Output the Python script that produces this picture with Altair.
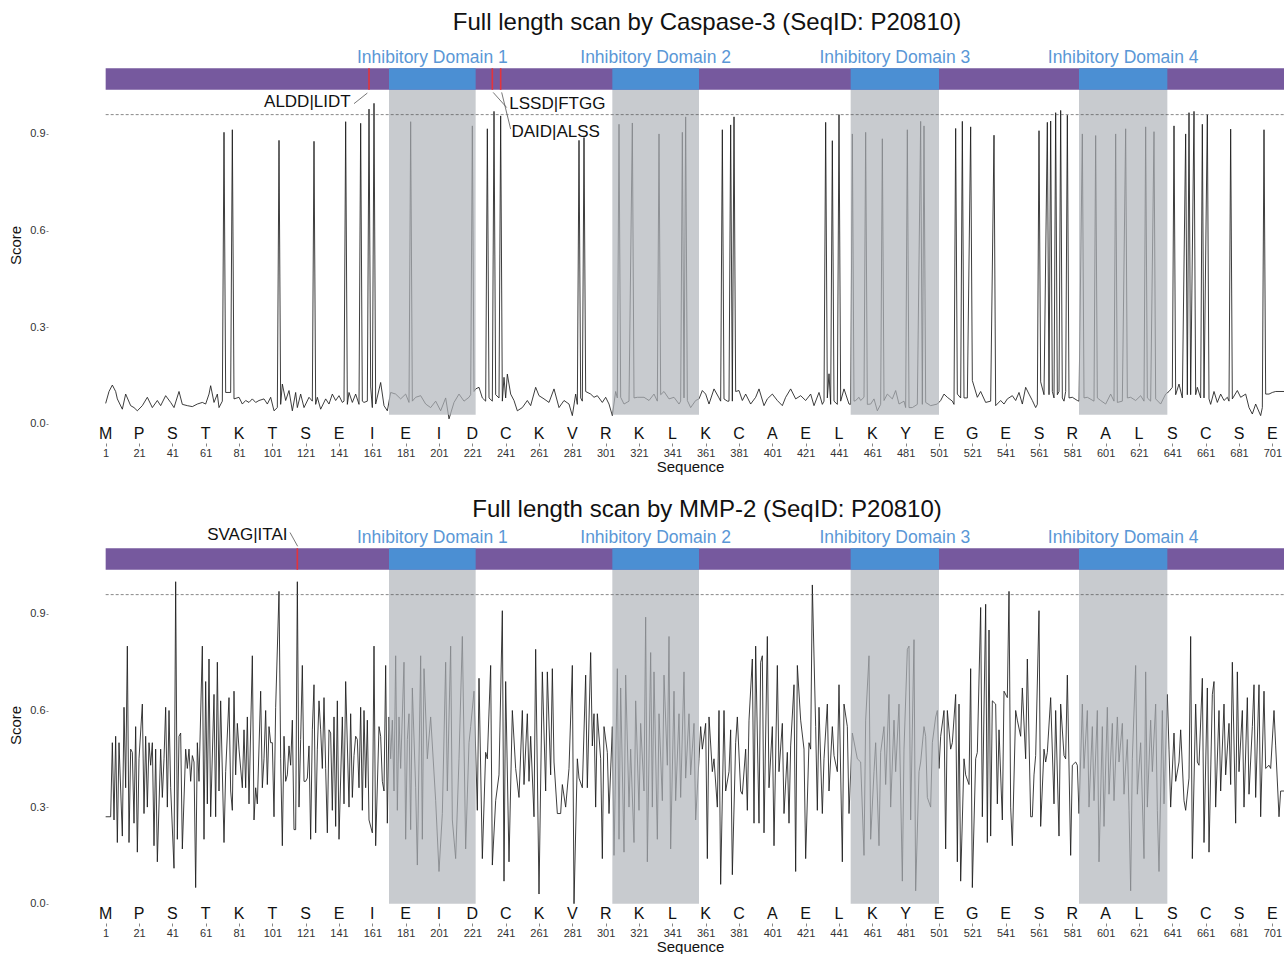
import altair as alt
import pandas as pd

FONT = "Liberation Sans"

# ---------------- data ----------------
sequence_letters = ["M", "P", "S", "T", "K", "T", "S", "E", "I", "E", "I", "D",
                    "C", "K", "V", "R", "K", "L", "K", "C", "A", "E", "L", "K",
                    "Y", "E", "G", "E", "S", "R", "A", "L", "S", "C", "S", "E"]
sequence_ticks = [1, 21, 41, 61, 81, 101, 121, 141, 161, 181, 201, 221,
                  241, 261, 281, 301, 321, 341, 361, 381, 401, 421, 441, 461,
                  481, 501, 521, 541, 561, 581, 601, 621, 641, 661, 681, 701]
score_ticks = [0, 0.3, 0.6, 0.9]

domain_names = ["Inhibitory Domain 1", "Inhibitory Domain 2",
                "Inhibitory Domain 3", "Inhibitory Domain 4"]
domain_start = [171, 305, 448, 585]
domain_end = [223, 357, 501, 638]

protein_start = 1
protein_end = 712
threshold = 0.96

# Caspase-3 scan: (sequence position, score)
caspase3_points = [
    (1, .063), (3, .10), (5, .12), (7, .10), (8, .077), (11, .045), (13, .092), (16, .056), (18, .05), (20, .04),
    (23, .056), (26, .082), (29, .05), (32, .072), (34, .056), (37, .087), (40, .066), (42, .05), (45, .10), (47, .06),
    (50, .056), (53, .053), (56, .061), (59, .066), (61, .061), (63, .092), (64, .118), (66, .066), (68, .092), (69, .05),
    (71, .07), (72, .905), (73, .097), (76, .097), (77, .913), (78, .077), (81, .082), (83, .061), (85, .072), (87, .066),
    (89, .077), (91, .066), (93, .072), (96, .077), (98, .061), (100, .082), (102, .04), (104, .05), (105, .88), (106, .06),
    (107, .123), (109, .072), (111, .103), (113, .04), (115, .097), (116, .05), (118, .092), (120, .05), (123, .082), (125, .07),
    (126, .877), (127, .06), (128, .082), (130, .045), (133, .077), (135, .061), (137, .092), (139, .072), (141, .087), (143, .066),
    (144, .07), (145, .938), (146, .06), (147, .097), (149, .066), (151, .092), (153, .06), (154, .933), (155, .07), (156, .066),
    (158, .07), (159, .977), (160, .114), (161, .05), (162, .995), (163, .061), (166, .128), (168, .056), (170, .04), (172, .097),
    (175, .092), (178, .077), (181, .092), (183, .066), (184, .938), (185, .07), (187, .082), (190, .087), (193, .061), (196, .05),
    (199, .07), (202, .04), (205, .08), (207, .015), (210, .066), (213, .092), (216, .07), (219, .082), (220, .09), (221, .925),
    (222, .10), (223, .108), (225, .113), (227, .08), (229, .07), (230, .916), (231, .08), (233, .07), (234, .97), (235, .09),
    (237, .08), (238, .956), (239, .07), (240, .144), (241, .08), (242, .154), (244, .092), (246, .072), (248, .04), (251, .05),
    (254, .072), (256, .056), (259, .113), (261, .087), (264, .077), (267, .066), (270, .108), (273, .05), (276, .072), (279, .061),
    (281, .025), (283, .092), (284, .06), (285, .88), (286, .08), (287, .07), (288, .889), (289, .10), (292, .092), (294, .082),
    (296, .087), (299, .066), (301, .082), (303, .061), (305, .025), (307, .10), (308, .08), (309, .93), (310, .082), (312, .061),
    (315, .07), (317, .934), (318, .08), (320, .082), (324, .082), (327, .072), (330, .092), (332, .07), (333, .90), (334, .09),
    (336, .10), (339, .077), (342, .082), (345, .061), (346, .07), (347, .905), (348, .08), (349, .953), (350, .072), (352, .05),
    (355, .072), (357, .077), (359, .103), (361, .092), (363, .061), (366, .108), (369, .08), (370, .07), (371, .913), (372, .077),
    (374, .07), (375, .07), (376, .928), (377, .07), (378, .953), (379, .10), (381, .103), (383, .072), (385, .092), (388, .061),
    (391, .082), (393, .108), (396, .056), (398, .077), (401, .092), (404, .072), (407, .056), (409, .082), (412, .108), (415, .077),
    (418, .087), (421, .072), (424, .092), (426, .056), (429, .097), (431, .06), (432, .07), (433, .936), (434, .08), (435, .155),
    (436, .06), (437, .879), (438, .07), (440, .06), (441, .96), (442, .07), (444, .108), (447, .061), (448, .06), (449, .90),
    (450, .07), (451, .072), (453, .082), (454, .072), (456, .082), (457, .905), (458, .06), (460, .061), (462, .077), (464, .04),
    (466, .06), (467, .885), (468, .072), (470, .092), (473, .077), (475, .103), (477, .061), (480, .07), (481, .05), (482, .913),
    (483, .05), (485, .05), (488, .06), (490, .939), (491, .06), (492, .925), (493, .066), (496, .056), (500, .061), (502, .072),
    (504, .092), (506, .082), (509, .07), (510, .06), (511, .917), (512, .092), (514, .08), (515, .939), (516, .08), (518, .08),
    (520, .922), (521, .134), (524, .082), (526, .10), (529, .066), (532, .07), (534, .896), (535, .056), (538, .072), (540, .061),
    (542, .077), (545, .087), (547, .072), (549, .097), (551, .061), (553, .113), (555, .092), (557, .072), (559, .05), (560, .06),
    (561, .91), (562, .13), (564, .09), (566, .936), (567, .09), (568, .94), (569, .10), (570, .08), (571, .966), (572, .09),
    (573, .10), (574, .973), (575, .08), (576, .07), (577, .10), (578, .958), (579, .08), (581, .082), (584, .072), (585, .07),
    (587, .90), (588, .08), (590, .082), (594, .07), (595, .895), (596, .08), (598, .072), (601, .061), (604, .092), (606, .07),
    (607, .90), (608, .066), (611, .07), (613, .916), (614, .08), (616, .082), (619, .072), (622, .087), (624, .07), (625, .922),
    (626, .08), (628, .07), (630, .907), (631, .077), (634, .061), (637, .092), (639, .10), (641, .113), (642, .925), (643, .09),
    (645, .123), (647, .08), (649, .90), (650, .09), (651, .966), (652, .09), (654, .97), (655, .09), (656, .113), (658, .08),
    (659, .93), (660, .08), (662, .96), (663, .077), (664, .06), (666, .10), (668, .066), (670, .092), (672, .072), (674, .082),
    (675, .07), (676, .915), (677, .077), (680, .103), (682, .082), (685, .092), (687, .05), (689, .03), (691, .061), (694, .025),
    (695, .05), (696, .913), (697, .092), (699, .092), (701, .097), (703, .10), (708, .10),
]

# MMP-2 scan: (sequence position, score)
mmp2_points = [
    (1, .27), (4, .27), (5, .50), (6, .26), (7, .52), (8, .19), (9, .50), (11, .21), (12, .61), (13, .36),
    (14, .80), (15, .19), (16, .48), (17, .47), (18, .25), (19, .55), (20, .16), (21, .45), (23, .62), (24, .28),
    (25, .52), (26, .30), (27, .50), (28, .43), (29, .50), (30, .18), (31, .48), (32, .13), (34, .48), (35, .33),
    (36, .45), (37, .61), (38, .30), (39, .60), (40, .36), (42, .11), (43, 1.0), (44, .20), (45, .52), (46, .53),
    (47, .17), (49, .48), (50, .42), (51, .48), (52, .38), (53, .46), (54, .44), (55, .05), (56, .50), (57, .38),
    (59, .80), (60, .20), (61, .69), (62, .31), (63, .76), (64, .27), (66, .65), (67, .27), (68, .75), (69, .35),
    (70, .63), (72, .19), (73, .41), (75, .64), (76, .35), (77, .29), (78, .66), (79, .40), (80, .56), (81, .48),
    (83, .36), (84, .54), (85, .36), (86, .58), (87, .31), (89, .77), (90, .26), (91, .36), (92, .31), (94, .66),
    (95, .36), (96, .45), (97, .60), (98, .37), (99, .55), (100, .50), (101, .50), (102, .27), (103, .61), (105, .97),
    (106, .45), (107, .18), (108, .52), (109, .38), (110, .40), (111, .49), (112, .43), (113, .57), (114, .23), (115, .23),
    (116, 1.0), (117, .30), (118, .51), (119, .74), (120, .38), (121, .38), (122, .39), (123, .49), (124, .20), (125, .54),
    (126, .68), (127, .22), (128, .48), (129, .63), (130, .54), (131, .42), (132, .64), (133, .42), (134, .22), (135, .54),
    (136, .53), (137, .29), (138, .58), (139, .24), (140, .63), (141, .20), (143, .58), (144, .31), (145, .69), (147, .30),
    (148, .59), (149, .33), (150, .46), (151, .52), (152, .51), (153, .36), (154, .61), (155, .29), (156, .60), (157, .36),
    (158, .57), (159, .26), (161, .22), (162, .80), (163, .18), (165, .55), (166, .52), (167, .38), (168, .35), (169, .74),
    (170, .25), (171, .58), (172, .45), (173, .57), (174, .35), (175, .77), (176, .29), (177, .58), (178, .42), (180, .75),
    (181, .20), (182, .51), (183, .59), (184, .23), (185, .67), (187, .36), (188, .12), (190, .77), (191, .20), (192, .73),
    (194, .45), (196, .58), (199, .32), (201, .10), (203, .28), (205, .75), (206, .35), (208, .80), (209, .26), (211, .14),
    (213, .45), (215, .83), (217, .17), (219, .50), (220, .55), (222, .66), (224, .29), (225, .70), (227, .14), (229, .47),
    (230, .45), (232, .74), (233, .12), (235, .32), (237, .40), (239, .91), (240, .07), (241, .69), (243, .13), (245, .60),
    (247, .42), (249, .33), (251, .60), (252, .37), (254, .59), (255, .38), (256, .52), (258, .27), (259, .79), (261, .03),
    (263, .72), (265, .35), (266, .72), (268, .40), (269, .73), (270, .44), (272, .28), (274, .28), (275, .37), (277, .30),
    (279, .42), (281, .74), (282, .00), (284, .45), (285, .39), (287, .36), (289, .71), (290, .36), (292, .78), (293, .49),
    (294, .59), (295, .30), (296, .59), (298, .45), (299, .14), (300, .55), (302, .47), (303, .28), (305, .55), (306, .15),
    (308, .73), (309, .20), (310, .67), (312, .16), (313, .71), (315, .30), (316, .48), (318, .19), (319, .63), (321, .29),
    (322, .56), (324, .35), (325, .89), (326, .13), (328, .78), (329, .30), (330, .72), (332, .20), (333, .59), (335, .32),
    (336, .71), (338, .43), (339, .83), (340, .17), (342, .66), (343, .32), (345, .59), (346, .33), (348, .72), (349, .39),
    (351, .59), (352, .40), (354, .56), (355, .26), (357, .45), (358, .55), (359, .48), (361, .56), (362, .14), (363, .58),
    (365, .41), (366, .45), (368, .30), (369, .60), (370, .06), (372, .60), (373, .35), (375, .41), (376, .54), (377, .09),
    (379, .50), (380, .58), (382, .35), (383, .34), (385, .48), (386, .29), (387, .57), (389, .76), (390, .25), (391, .80),
    (393, .25), (394, .75), (395, .77), (396, .22), (398, .83), (399, .36), (401, .55), (402, .18), (404, .74), (405, .41),
    (407, .56), (408, .28), (410, .47), (411, .25), (412, .49), (414, .68), (415, .10), (416, .74), (418, .57), (420, .48),
    (421, .14), (423, .50), (424, .48), (425, .99), (427, .55), (428, .29), (429, .61), (431, .28), (432, .45), (434, .62),
    (435, .35), (437, .55), (438, .46), (440, .41), (441, .68), (443, .13), (444, .62), (446, .55), (447, .28), (449, .53),
    (452, .45), (454, .44), (456, .15), (457, .57), (459, .77), (460, .20), (462, .41), (463, .50), (465, .18), (466, .47),
    (468, .55), (469, .37), (471, .65), (472, .30), (474, .57), (475, .41), (477, .62), (479, .07), (480, .48), (482, .79),
    (483, .80), (484, .26), (486, .82), (487, .04), (489, .41), (490, .44), (492, .55), (493, .52), (494, .33), (496, .30),
    (497, .50), (499, .58), (500, .60), (501, .42), (502, .52), (504, .60), (505, .17), (506, .60), (508, .48), (509, .50),
    (511, .65), (512, .13), (513, .62), (514, .07), (516, .45), (517, .40), (519, .37), (520, .73), (521, .05), (523, .45),
    (524, .47), (526, .92), (527, .27), (529, .93), (530, .19), (531, .85), (532, .21), (533, .63), (535, .62), (536, .31),
    (537, .54), (539, .26), (540, .66), (542, .64), (543, .97), (544, .30), (545, .18), (547, .60), (548, .57), (550, .52),
    (551, .67), (553, .45), (554, .76), (556, .27), (557, .27), (558, .40), (559, .46), (561, .91), (562, .24), (564, .48),
    (565, .44), (566, .47), (568, .64), (570, .31), (571, .60), (573, .21), (574, .62), (576, .46), (577, .45), (578, .71),
    (580, .15), (581, .43), (583, .44), (584, .43), (585, .28), (587, .62), (588, .42), (590, .60), (591, .30), (593, .55),
    (594, .32), (596, .60), (597, .13), (599, .55), (600, .24), (602, .61), (603, .34), (605, .56), (606, .32), (608, .58),
    (609, .44), (611, .56), (612, .34), (614, .51), (615, .29), (616, .04), (617, .45), (619, .74), (620, .34), (622, .50),
    (624, .14), (625, .72), (626, .30), (628, .57), (629, .41), (631, .62), (632, .29), (633, .10), (635, .60), (636, .31),
    (638, .65), (639, .48), (640, .30), (642, .53), (643, .38), (645, .44), (646, .54), (648, .32), (649, .29), (651, .39),
    (652, .83), (653, .14), (655, .62), (656, .44), (657, .43), (659, .70), (660, .19), (662, .67), (663, .16), (665, .65),
    (666, .69), (667, .30), (669, .60), (670, .35), (672, .62), (673, .40), (675, .56), (676, .37), (677, .75), (679, .25),
    (680, .72), (681, .41), (683, .60), (684, .30), (686, .64), (687, .34), (689, .55), (690, .68), (691, .33), (693, .68),
    (694, .27), (696, .66), (697, .42), (699, .43), (700, .42), (702, .60), (703, .49), (705, .27), (706, .35), (708, .35),
]

# cleavage-site annotations: site, label, label position/score, leader from -> to
caspase3_sites = [159, 233, 238]
caspase3_site_labels = ["ALDD|LIDT", "LSSD|FTGG", "DAID|ALSS"]
caspase3_label_pos = [122, 272, 271]
caspase3_label_score = [1.0, 0.993, 0.905]
caspase3_leaders = [(150, 0.994, 158, 1.027), (233.5, 1.029, 241.6, 0.982), (238.6, 1.029, 244, 0.915)]
caspase3_floor = 0.028

mmp2_sites = [116]
mmp2_site_labels = ["SVAG|ITAI"]
mmp2_label_pos = [86]
mmp2_label_score = [1.146]
mmp2_leaders = [(111.6, 1.153, 116.2, 1.11)]
mmp2_floor = 0.0

# ---------------- styling ----------------
PURPLE = "#76599e"
BLUE = "#4b8fd3"
LABEL_BLUE = "#5a97d6"
SHADE = "#b0b5ba"
RED = "#e3343c"
BAR_LO, BAR_HI = 1.037, 1.104

xs = alt.Scale(domain=[-33.6, 708.0], nice=False, zero=False)
ys = alt.Scale(domain=[-0.06, 1.17], nice=False, zero=False)

X_AXIS = alt.Axis(
    values=sequence_ticks, labelOverlap=False, labelFlush=False, labelBound=False,
    titleX=642, tickSize=3, labelPadding=1, titlePadding=1, grid=False, domain=False,
    tickColor="#333333", tickWidth=0.6, labelFontSize=11, labelColor="#333333",
    labelFont=FONT, titleFont=FONT, titleFontSize=15, titleFontWeight="normal",
    titleColor="#111111")
Y_AXIS = alt.Axis(
    values=score_ticks, format=".1f", labelOverlap=False, tickSize=2, labelPadding=1,
    titlePadding=6, grid=False, domain=False, tickColor="#333333", tickWidth=0.6,
    labelFontSize=11, labelColor="#333333", labelFont=FONT, titleFont=FONT,
    titleFontSize=15, titleFontWeight="normal", titleColor="#111111")


def X(field):
    return alt.X(field, type="quantitative", scale=xs, title="Sequence", axis=X_AXIS)


def Y(field):
    return alt.Y(field, type="quantitative", scale=ys, title="Score", axis=Y_AXIS)


def panel(points, title, sites, site_labels, lab_pos, lab_score, leaders, floor, title_offset):
    scan = pd.DataFrame(points, columns=["pos", "score"])
    doms = pd.DataFrame({"name": domain_names, "start": domain_start, "end": domain_end})
    doms["mid"] = (doms["start"] + doms["end"]) / 2
    doms["lo"] = floor
    doms["hi"] = BAR_LO
    doms["blo"] = BAR_LO
    doms["bhi"] = BAR_HI
    doms["ly"] = 1.135
    prot = pd.DataFrame({"s": [protein_start], "e": [protein_end], "lo": [BAR_LO], "hi": [BAR_HI]})
    thr = pd.DataFrame({"s": [protein_start], "e": [protein_end], "y": [threshold]})
    red = pd.DataFrame({"pos": sites, "lo": [BAR_LO] * len(sites), "hi": [BAR_HI] * len(sites)})
    letters = pd.DataFrame({"pos": sequence_ticks, "aa": sequence_letters, "y": [-0.031] * len(sequence_ticks)})
    labs = pd.DataFrame({"pos": lab_pos, "score": lab_score, "text": site_labels})
    lead = pd.DataFrame(leaders, columns=["x1", "y1", "x2", "y2"])

    line = alt.Chart(scan).mark_line(color="#1b1b1b", strokeWidth=0.85).encode(
        x=X("pos"), y=Y("score"))
    shade = alt.Chart(doms).mark_rect(color=SHADE, opacity=0.7).encode(
        x=X("start"), x2="end", y=Y("lo"), y2="hi")
    dash = alt.Chart(thr).mark_rule(color="#555555", strokeWidth=0.7, strokeDash=[3, 2], clip=True).encode(
        x=X("s"), x2="e", y=Y("y"))
    bar = alt.Chart(prot).mark_rect(color=PURPLE, clip=True).encode(
        x=X("s"), x2="e", y=Y("lo"), y2="hi")
    dbar = alt.Chart(doms).mark_rect(color=BLUE).encode(
        x=X("start"), x2="end", y=Y("blo"), y2="bhi")
    reds = alt.Chart(red).mark_rule(color=RED, strokeWidth=1.6).encode(
        x=X("pos"), y=Y("lo"), y2="hi")
    dlab = alt.Chart(doms).mark_text(color=LABEL_BLUE, font=FONT, fontSize=17.5, baseline="middle").encode(
        x=X("mid"), y=Y("ly"), text="name")
    aa = alt.Chart(letters).mark_text(color="#111111", font=FONT, fontSize=16, baseline="middle").encode(
        x=X("pos"), y=Y("y"), text="aa")
    leader = alt.Chart(lead).mark_rule(color="#555555", strokeWidth=0.8).encode(
        x=X("x1"), y=Y("y1"), x2="x2", y2="y2")
    ltext = alt.Chart(labs).mark_text(color="#111111", font=FONT, fontSize=17, baseline="middle").encode(
        x=X("pos"), y=Y("score"), text="text")

    return alt.layer(line, shade, dash, bar, dbar, reds, dlab, aa, leader, ltext).properties(
        width=1236, height=396,
        title=alt.TitleParams(title, font=FONT, fontSize=24, fontWeight="normal", color="#111111",
                              anchor="middle", dx=41, offset=title_offset),
    )


p1 = panel(caspase3_points, "Full length scan by Caspase-3 (SeqID: P20810)", caspase3_sites,
           caspase3_site_labels, caspase3_label_pos, caspase3_label_score, caspase3_leaders,
           caspase3_floor, 12)
p2 = panel(mmp2_points, "Full length scan by MMP-2 (SeqID: P20810)", mmp2_sites,
           mmp2_site_labels, mmp2_label_pos, mmp2_label_score, mmp2_leaders,
           mmp2_floor, 4)

chart = alt.vconcat(p1, p2, spacing=23).properties(
    padding={"left": 8, "top": 11, "right": 0, "bottom": 0},
).configure(
    background="white",
    view=alt.ViewConfig(stroke=None),
    axis=alt.AxisConfig(labelOverlap=False),
)

chart.save("out.html", embed_options={"renderer": "svg", "actions": False})
